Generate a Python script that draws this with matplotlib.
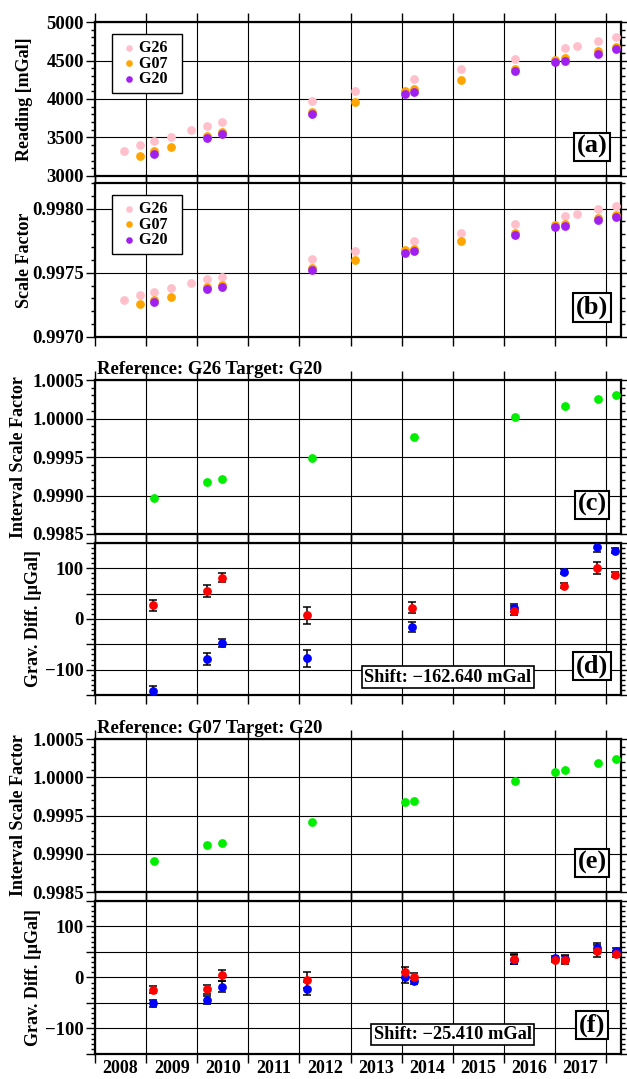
import matplotlib
matplotlib.use('Agg')
import matplotlib.pyplot as plt
from matplotlib.ticker import MultipleLocator, FixedLocator, FuncFormatter

plt.rcParams['font.family'] = ['Liberation Serif', 'DejaVu Serif']
plt.rcParams['font.weight'] = 'bold'
plt.rcParams['axes.labelweight'] = 'bold'

# ── (a)/(b) gravimeter readings and scale factors per campaign ──
g26_t = [2008.57, 2008.88, 2009.15, 2009.48, 2009.88, 2010.19, 2010.49, 2012.24,
         2013.08, 2014.24, 2015.15, 2016.22, 2017.20, 2017.43, 2017.84, 2018.19]
g26_read = [3330, 3404, 3457, 3509, 3600, 3652, 3700, 3974,
            4100, 4257, 4391, 4517, 4661, 4687, 4757, 4809]
g26_sf = [0.997289, 0.997326, 0.997352, 0.997378, 0.997422, 0.997451, 0.997471, 0.997604,
          0.997667, 0.997747, 0.997810, 0.997878, 0.997945, 0.997958, 0.997995, 0.998018]

g07_t = [2008.88, 2009.15, 2009.48, 2010.19, 2010.49, 2012.24, 2013.08, 2014.06,
         2014.24, 2015.15, 2016.22, 2016.99, 2017.20, 2017.84, 2018.19]
g07_read = [3265, 3322, 3378, 3517, 3570, 3830, 3965, 4100,
            4126, 4252, 4387, 4509, 4535, 4617, 4670]
g07_sf = [0.997255, 0.997286, 0.997310, 0.997388, 0.997406, 0.997539, 0.997602, 0.997677,
          0.997682, 0.997745, 0.997812, 0.997875, 0.997883, 0.997927, 0.997953]

g20_t = [2009.15, 2010.19, 2010.49, 2012.24, 2014.06, 2014.24, 2016.22, 2016.99,
         2017.20, 2017.84, 2018.19]
g20_read = [3291, 3496, 3539, 3804, 4070, 4091, 4361, 4478, 4496, 4587, 4643]
g20_sf = [0.997271, 0.997372, 0.997393, 0.997523, 0.997654, 0.997667, 0.997794, 0.997854,
          0.997862, 0.997909, 0.997935]

# ── (c)/(d) reference G26, target G20 ──
c_t = [2009.15, 2010.19, 2010.49, 2012.24, 2014.24, 2016.22, 2017.20, 2017.84, 2018.19]
c_isf = [0.998974, 0.999173, 0.999212, 0.999483, 0.999762, 1.000022, 1.000160, 1.000251, 1.000299]

d_t = [2009.14, 2010.19, 2010.48, 2012.15, 2014.21, 2016.20, 2017.18, 2017.81, 2018.18]
d_red = [27, 56, 81, 7, 22, 16, 66, 100, 87]
d_red_err = [10.5, 12, 9, 17.5, 10.5, 9, 5.5, 11.5, 5]
d_blue = [-142, -79, -47, -78, -16, 22, 93, 142, 135]
d_blue_err = [10.5, 12, 8, 17, 10, 8, 5, 10, 5]
d_shift = 'Shift: \u2212162.640 mGal'

# ── (e)/(f) reference G07, target G20 ──
e_t = [2009.15, 2010.19, 2010.49, 2012.24, 2014.06, 2014.24, 2016.22, 2016.99,
       2017.20, 2017.84, 2018.19]
e_isf = [0.998904, 0.999109, 0.999143, 0.999417, 0.999674, 0.999691, 0.999952, 1.000074,
         1.000091, 1.000183, 1.000235]

f_t = [2009.14, 2010.19, 2010.48, 2012.15, 2014.07, 2014.24, 2016.20, 2017.00,
       2017.20, 2017.82, 2018.19]
f_red = [-23.6, -23, 4, -5, 10, 1, 36, 35, 35, 52, 46.5]
f_red_err = [6.5, 8.5, 10, 15, 11, 7, 10.5, 4, 8, 12, 6]
f_blue = [-51, -45, -18, -22, 0, -7, 35, 38, 37, 58, 52]
f_blue_err = [6.5, 8, 10.5, 13, 10, 6, 9, 4, 7, 10, 6]
f_shift = 'Shift: \u221225.410 mGal'

years = list(range(2008, 2018))
XMIN, XMAX = 2008.0, 2018.29
FS = 13.5

C_G26, C_G07, C_G20 = '#ffc0cb', '#ffa500', '#a020f0'
C_GREEN, C_RED, C_BLUE = '#00ee00', '#ff0000', '#0000ff'


def fmt_int(v, p):
    return f'{v:.0f}'


def fmt_4(v, p):
    return f'{v:.4f}'


def fmt_100(v, p):
    v = int(round(v))
    if v % 100:
        return ''
    return str(v).replace('-', '\u2212')


def frame(ax, ylim, major, minor, fmt, ylabel, lab_x):
    ax.set_xlim(XMIN, XMAX)
    ax.set_ylim(*ylim)
    ax.xaxis.set_major_locator(MultipleLocator(1))
    ax.yaxis.set_major_locator(MultipleLocator(major))
    ax.yaxis.set_minor_locator(MultipleLocator(minor))
    ax.yaxis.set_major_formatter(FuncFormatter(fmt))
    ax.tick_params(which='both', direction='out', top=True, right=True,
                   labelsize=FS, width=1.0, color='k')
    ax.tick_params(which='major', length=6.5, pad=1.5)
    ax.tick_params(which='minor', length=3)
    ax.tick_params(axis='x', labelbottom=False)
    ax.grid(which='major', color='k', lw=0.8)
    ax.set_axisbelow(True)
    for s in ax.spines.values():
        s.set_linewidth(1.6)
    ax.set_ylabel(ylabel, fontsize=13)
    ax.yaxis.set_label_coords(lab_x, 0.5)


def panel_tag(ax, tag):
    ax.text(0.945, 0.19, tag, transform=ax.transAxes, ha='center', va='center',
            fontsize=19, zorder=6,
            bbox=dict(boxstyle='square,pad=0.1', fc='white', ec='k', lw=1.5))


def shift_box(ax, txt, y):
    ax.text(0.83, y, txt, transform=ax.transAxes, ha='right', va='center',
            fontsize=13.2, zorder=6,
            bbox=dict(boxstyle='square,pad=0.12', fc='white', ec='k', lw=1.2))


fig = plt.figure(figsize=(6.27, 10.79), dpi=100)
L, W = 0.1515, 0.839
ax_a = fig.add_axes([L, 0.8369, W, 0.1427])
ax_b = fig.add_axes([L, 0.6877, W, 0.1427])
ax_c = fig.add_axes([L, 0.5051, W, 0.1427])
ax_d = fig.add_axes([L, 0.3559, W, 0.1409])
ax_e = fig.add_axes([L, 0.1733, W, 0.1418])
ax_f = fig.add_axes([L, 0.0232, W, 0.1418])

# (a) readings
frame(ax_a, (3000, 5000), 500, 100, fmt_int, 'Reading [mGal]', -0.118)
ax_a.scatter(g26_t, g26_read, s=40, c=C_G26, lw=0, zorder=3, label='G26  ')
ax_a.scatter(g07_t, g07_read, s=40, c=C_G07, lw=0, zorder=3, label='G07  ')
ax_a.scatter(g20_t, g20_read, s=40, c=C_G20, lw=0, zorder=3, label='G20  ')
panel_tag(ax_a, '(a)')

# (b) scale factors
frame(ax_b, (0.9970, 0.9982), 0.0005, 0.0001, fmt_4, 'Scale Factor', -0.118)
ax_b.scatter(g26_t, g26_sf, s=40, c=C_G26, lw=0, zorder=3, label='G26  ')
ax_b.scatter(g07_t, g07_sf, s=40, c=C_G07, lw=0, zorder=3, label='G07  ')
ax_b.scatter(g20_t, g20_sf, s=40, c=C_G20, lw=0, zorder=3, label='G20  ')
panel_tag(ax_b, '(b)')

for ax in (ax_a, ax_b):
    leg = ax.legend(loc='upper left', bbox_to_anchor=(0.032, 0.922), borderaxespad=0,
                    fontsize=11.5, handlelength=1.3, handletextpad=0.0, borderpad=0.4,
                    labelspacing=-0.05, fancybox=False, framealpha=1, edgecolor='k',
                    markerscale=0.75)
    leg.get_frame().set_linewidth(1.0)

# (c) / (e) interval scale factors
for ax, t, v, title, tag in ((ax_c, c_t, c_isf, 'Reference: G26 Target: G20', '(c)'),
                             (ax_e, e_t, e_isf, 'Reference: G07 Target: G20', '(e)')):
    frame(ax, (0.9985, 1.0005), 0.0005, 0.0001, fmt_4, 'Interval Scale Factor', -0.13)
    ax.scatter(t, v, s=40, c=C_GREEN, lw=0, zorder=3)
    ax.text(0.003, 1.04, title, transform=ax.transAxes, ha='left', va='baseline',
            fontsize=13.5)
    panel_tag(ax, tag)

# (d) / (f) gravity differences
for ax, t, red, red_e, blue, blue_e, tag, shift, sy in (
        (ax_d, d_t, d_red, d_red_err, d_blue, d_blue_err, '(d)', d_shift, 0.118),
        (ax_f, f_t, f_red, f_red_err, f_blue, f_blue_err, '(f)', f_shift, 0.127)):
    frame(ax, (-150, 150), 50, 10, fmt_100, 'Grav. Diff. [\u03bcGal]', -0.1)
    ax.errorbar(t, blue, yerr=blue_e, fmt='none', ecolor='k', elinewidth=1.1,
                capsize=3, capthick=1.1, zorder=3)
    ax.errorbar(t, red, yerr=red_e, fmt='none', ecolor='k', elinewidth=1.1,
                capsize=3, capthick=1.1, zorder=3)
    ax.scatter(t, blue, s=40, c=C_BLUE, lw=0, zorder=4)
    ax.scatter(t, red, s=40, c=C_RED, lw=0, zorder=4)
    panel_tag(ax, tag)
    shift_box(ax, shift, sy)

# year annotations centred in each interval on the bottom panel
ax_f.xaxis.set_minor_locator(FixedLocator([y + 0.5 for y in years]))
ax_f.xaxis.set_minor_formatter(FuncFormatter(lambda v, p: f'{int(v)}'))
ax_f.tick_params(axis='x', which='minor', length=0, labelbottom=True, pad=4.5,
                 labelsize=13)

fig.savefig('out.png', dpi=100)
